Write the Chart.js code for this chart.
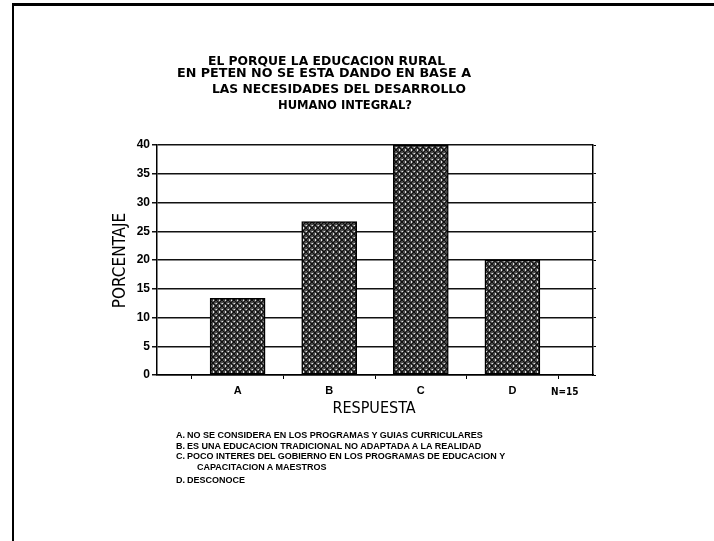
<!DOCTYPE html>
<html>
<head>
<meta charset="utf-8">
<script src="https://cdn.jsdelivr.net/npm/chart.js@4"></script>
<style>
  html, body { margin: 0; padding: 0; background: #fff; }
  #wrap { position: relative; width: 714px; height: 541px; overflow: hidden; }
  #wrap canvas { position: absolute; left: 0; top: 0; }
  .frame { position: absolute; left: 12px; top: 3px; width: 710px; height: 545px;
           border-top: 3px solid #000; border-left: 2px solid #000; }
  .t { position: absolute; line-height: 1; white-space: nowrap; color: #000;
       font-family: "Liberation Sans Narrow", "Arial Narrow", "DejaVu Sans Condensed", sans-serif; }
  .title { font-size: 13px; font-weight: bold; transform-origin: 0 0; }
  .note { font-family: "Liberation Sans", Arial, sans-serif; font-size: 9px; font-weight: bold; }
</style>
</head>
<body>
<div id="wrap">
  <canvas id="chart" width="714" height="541"></canvas>
  <div class="frame"></div>

  <div class="t title fit" data-w="237" style="left:208px; top:54px;">EL PORQUE LA EDUCACION RURAL</div>
  <div class="t title fit" data-w="294" style="left:177px; top:66px;">EN PETEN NO SE ESTA DANDO EN BASE A</div>
  <div class="t title fit" data-w="254" style="left:212px; top:82px;">LAS NECESIDADES DEL DESARROLLO</div>
  <div class="t title fit" data-w="134" style="left:278px; top:98px;">HUMANO INTEGRAL?</div>

  <div class="t" style="left:69px; top:252px; width:100px; text-align:center; font-size:17px; transform:rotate(-90deg);">PORCENTAJE</div>
  <div class="t" style="left:324px; top:400px; width:100px; text-align:center; font-size:16px;">RESPUESTA</div>
  <div class="t" style="left:551px; top:387px; font-size:10px; font-weight:bold;">N=15</div>

  <div class="t note" style="left:176px; top:431px;">A.</div>
  <div class="t note" style="left:187px; top:431px;">NO SE CONSIDERA EN LOS PROGRAMAS Y GUIAS CURRICULARES</div>
  <div class="t note" style="left:176px; top:442px;">B.</div>
  <div class="t note" style="left:187px; top:442px;">ES UNA EDUCACION TRADICIONAL NO ADAPTADA A LA REALIDAD</div>
  <div class="t note" style="left:176px; top:452px;">C.</div>
  <div class="t note" style="left:187px; top:452px;">POCO INTERES DEL GOBIERNO EN LOS PROGRAMAS DE EDUCACION Y</div>
  <div class="t note" style="left:197px; top:463px;">CAPACITACION A MAESTROS</div>
  <div class="t note" style="left:176px; top:476px;">D.</div>
  <div class="t note" style="left:187px; top:476px;">DESCONOCE</div>
</div>

<script>
// data (N=15 answers, in percent)
const categories = ['A', 'B', 'C', 'D'];
const percentages = [13.33, 26.67, 40, 20];
const yTicks = [0, 5, 10, 15, 20, 25, 30, 35, 40];

// stretch/squeeze title lines to the lettering width of the original
document.querySelectorAll('.fit').forEach(el => {
  const w = el.getBoundingClientRect().width;
  el.style.transform = 'scaleX(' + (Number(el.dataset.w) / w) + ')';
});

// crosshatch fill like the printed bars
function makeHatch() {
  const c = document.createElement('canvas');
  c.width = 6;
  c.height = 6;
  const p = c.getContext('2d');
  p.fillStyle = '#4a4a4a';
  p.fillRect(0, 0, 6, 6);
  p.strokeStyle = '#111';
  p.lineWidth = 1;
  p.beginPath();
  p.moveTo(0, 0); p.lineTo(6, 6);
  p.moveTo(6, 0); p.lineTo(0, 6);
  p.stroke();
  p.fillStyle = 'rgba(255,255,255,0.85)';
  p.fillRect(3, 0, 1, 1);
  p.fillRect(0, 3, 1, 1);
  p.fillRect(3, 5, 1, 1);
  p.fillStyle = 'rgba(200,200,200,0.6)';
  p.fillRect(5, 3, 1, 1);
  return p.createPattern(c, 'repeat');
}

const ctx = document.getElementById('chart').getContext('2d');
const hatch = makeHatch();

new Chart(ctx, {
  type: 'bar',
  data: {
    datasets: [{
      data: percentages.map((v, i) => ({ x: i, y: v })),
      backgroundColor: hatch,
      borderColor: '#000',
      borderWidth: 1.5,
      borderSkipped: false,
      barThickness: 55
    }]
  },
  options: {
    responsive: false,
    animation: false,
    layout: { padding: { left: 0, top: 145, right: 117, bottom: 0 } },
    plugins: { legend: { display: false }, tooltip: { enabled: false } },
    scales: {
      x: {
        type: 'linear',
        offset: false,
        min: -0.88,
        max: 3.88,
        afterFit: s => { s.height = 166; },
        ticks: {
          stepSize: 0.5,
          includeBounds: false,
          autoSkip: false,
          maxRotation: 0,
          padding: 5,
          color: '#000',
          font: { family: '"Liberation Sans", Arial, sans-serif', size: 11, weight: 'bold' },
          callback: v => Number.isInteger(v) ? categories[v] : ''
        },
        grid: {
          offset: false,
          drawOnChartArea: false,
          tickLength: 4,
          color: c => (c.tick && !Number.isInteger(c.tick.value)) ? '#000' : 'rgba(0,0,0,0)'
        },
        border: { color: '#000', width: 1.5 }
      },
      y: {
        min: 0,
        max: 40,
        afterFit: s => { s.width = 157; },
        afterBuildTicks: s => { s.ticks = yTicks.map(v => ({ value: v })); },
        ticks: {
          padding: 2,
          color: '#000',
          font: { family: '"Liberation Sans", Arial, sans-serif', size: 12, weight: 'bold' }
        },
        grid: { color: '#111', lineWidth: 1.5, tickLength: 5 },
        border: { color: '#000', width: 1.5 }
      },
      y2: {
        position: 'right',
        min: 0,
        max: 40,
        afterFit: s => { s.width = 4; },
        ticks: { display: false, stepSize: 5 },
        grid: { drawOnChartArea: false, tickLength: 3, color: '#000' },
        border: { color: '#000', width: 1.5 }
      }
    }
  }
});
</script>
</body>
</html>
